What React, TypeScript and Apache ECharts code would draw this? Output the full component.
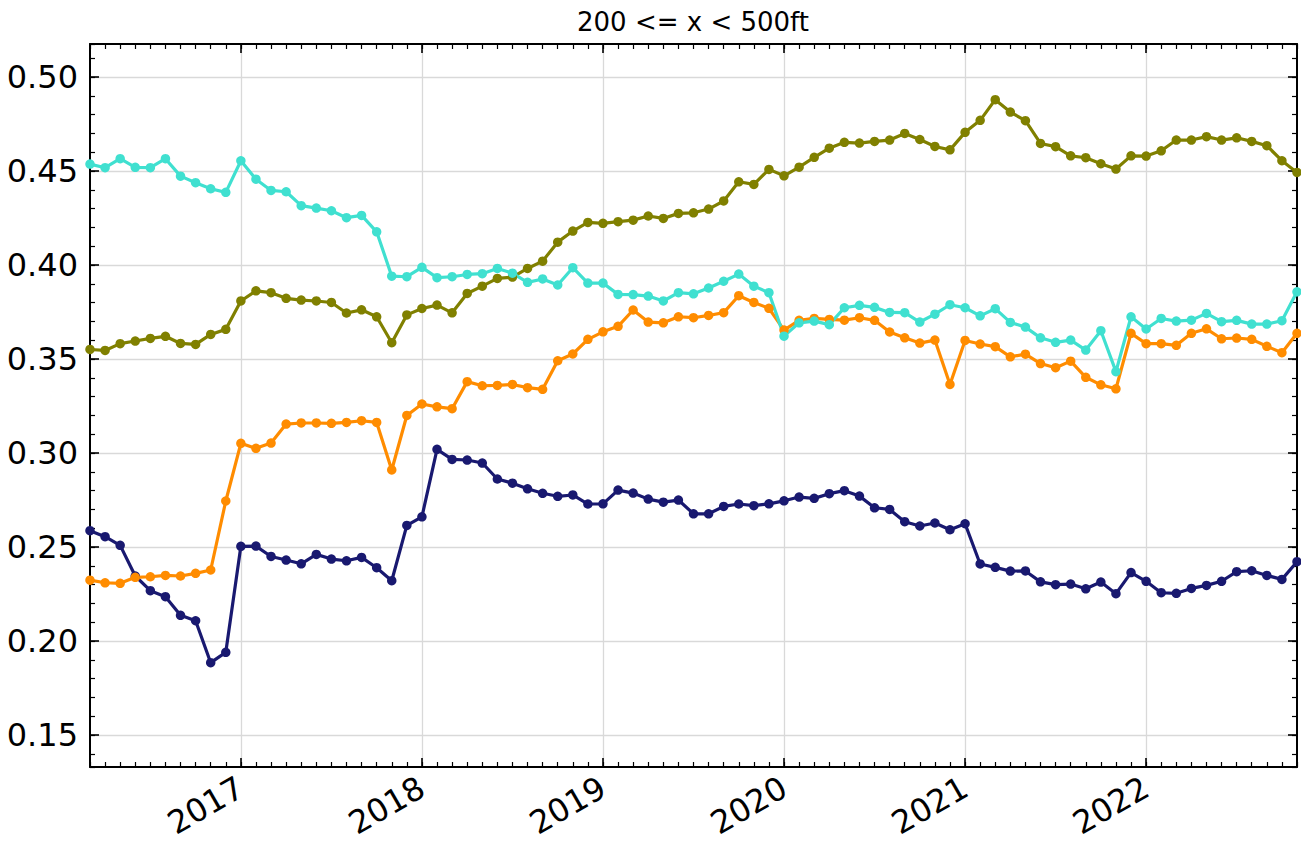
import React, { useEffect, useRef } from "react";
import * as echarts from "echarts";

const TITLE = "200 <= x < 500ft";
const START_YEAR = 2016;
const START_MONTH = 3;
const N_MONTHS = 81;
const months: string[] = [];
for (let i = 0; i < N_MONTHS; i++) {
  const m = START_MONTH - 1 + i;
  months.push(`${START_YEAR + Math.floor(m / 12)}-${String((m % 12) + 1).padStart(2, "0")}`);
}

const navy = [0.2587,0.2555,0.2509,0.2346,0.2268,0.2236,0.2137,0.2108,0.1885,0.1940,
0.2504,0.2505,0.2450,0.2431,0.2411,0.2461,0.2436,0.2427,0.2445,0.2390,0.2321,0.2615,
0.2661,0.3020,0.2966,0.2963,0.2947,0.2862,0.2840,0.2810,0.2786,0.2770,0.2777,0.2729,
0.2730,0.2803,0.2787,0.2755,0.2739,0.2750,0.2677,0.2677,0.2716,0.2729,0.2720,0.2730,
0.2746,0.2766,0.2759,0.2784,0.2800,0.2771,0.2709,0.2700,0.2635,0.2612,0.2628,0.2592,
0.2624,0.2410,0.2392,0.2372,0.2373,0.2315,0.2300,0.2303,0.2278,0.2314,0.2252,0.2364,
0.2318,0.2257,0.2254,0.2280,0.2296,0.2318,0.2369,0.2374,0.2349,0.2328,0.2422];

const orange = [0.2324,0.2310,0.2307,0.2339,0.2342,0.2349,0.2346,0.2360,0.2378,0.2745,
0.3052,0.3025,0.3053,0.3154,0.3160,0.3160,0.3158,0.3163,0.3172,0.3163,0.2910,0.3200,
0.3261,0.3246,0.3236,0.3380,0.3358,0.3360,0.3365,0.3348,0.3339,0.3491,0.3527,0.3605,
0.3645,0.3674,0.3761,0.3697,0.3693,0.3725,0.3720,0.3732,0.3747,0.3837,0.3801,0.3770,
0.3654,0.3706,0.3716,0.3711,0.3707,0.3720,0.3706,0.3644,0.3613,0.3585,0.3601,0.3365,
0.3599,0.3580,0.3566,0.3512,0.3526,0.3476,0.3454,0.3489,0.3403,0.3363,0.3342,0.3637,
0.3582,0.3582,0.3573,0.3637,0.3661,0.3608,0.3612,0.3605,0.3568,0.3534,0.3637];

const olive = [0.3551,0.3546,0.3582,0.3596,0.3610,0.3621,0.3583,0.3578,0.3631,0.3658,
0.3809,0.3863,0.3853,0.3823,0.3814,0.3809,0.3801,0.3745,0.3762,0.3725,0.3587,0.3735,
0.3769,0.3787,0.3746,0.3849,0.3888,0.3929,0.3936,0.3982,0.4021,0.4122,0.4181,0.4227,
0.4222,0.4231,0.4239,0.4261,0.4248,0.4275,0.4278,0.4298,0.4341,0.4443,0.4429,0.4509,
0.4475,0.4521,0.4573,0.4622,0.4653,0.4649,0.4658,0.4665,0.4700,0.4668,0.4631,0.4613,
0.4706,0.4770,0.4880,0.4814,0.4768,0.4647,0.4630,0.4581,0.4571,0.4539,0.4511,0.4581,
0.4580,0.4608,0.4665,0.4665,0.4683,0.4665,0.4677,0.4658,0.4635,0.4555,0.4493];

const turquoise = [0.4537,0.4518,0.4566,0.4520,0.4518,0.4566,0.4473,0.4438,0.4406,0.4387,
0.4555,0.4457,0.4397,0.4390,0.4316,0.4303,0.4289,0.4252,0.4264,0.4177,0.3941,0.3938,
0.3988,0.3933,0.3938,0.3950,0.3954,0.3982,0.3957,0.3908,0.3926,0.3894,0.3986,0.3904,
0.3904,0.3844,0.3843,0.3835,0.3809,0.3853,0.3847,0.3878,0.3914,0.3952,0.3888,0.3853,
0.3622,0.3693,0.3702,0.3683,0.3773,0.3786,0.3775,0.3748,0.3747,0.3697,0.3739,0.3789,
0.3773,0.3730,0.3768,0.3695,0.3670,0.3613,0.3589,0.3601,0.3548,0.3651,0.3433,0.3725,
0.3660,0.3716,0.3702,0.3707,0.3743,0.3699,0.3706,0.3686,0.3686,0.3704,0.3858];

const SERIES = [
  { name: "navy", color: "#191970", data: navy },
  { name: "orange", color: "#ff8c00", data: orange },
  { name: "olive", color: "#808000", data: olive },
  { name: "turquoise", color: "#40e0d0", data: turquoise },
];

const Y_MIN = 0.133;
const Y_MAX = 0.5176;
const FONT = "DejaVu Sans";

export default function App() {
  const ref = useRef<HTMLDivElement>(null);
  useEffect(() => {
    if (!ref.current) return;
    const chart = echarts.init(ref.current, undefined, { renderer: "svg" });
    const isJan = (_i: number, v: string) => typeof v === "string" && v.endsWith("-01");
    const black = "#000000";
    const xBase = (position: "top" | "bottom", major: boolean, main: boolean) => ({
      type: "category",
      data: months,
      boundaryGap: false,
      position,
      axisLine: { show: main, onZero: false, lineStyle: { color: black, width: 2 } },
      axisTick: {
        show: true,
        inside: true,
        length: major ? 9 : 5,
        interval: major ? isJan : 0,
        lineStyle: { color: black, width: major ? 1.6 : 1.2 },
      },
      axisLabel: main && position === "bottom"
        ? {
            show: true,
            interval: isJan,
            rotate: 30,
            margin: 18,
            fontSize: 32,
            fontFamily: FONT,
            color: black,
            formatter: (v: string) => v.slice(0, 4),
          }
        : { show: false },
      splitLine: main && position === "bottom"
        ? { show: true, interval: isJan, lineStyle: { color: "#d9d9d9", width: 1.3 } }
        : { show: false },
    });
    const yBase = (position: "left" | "right", major: boolean, main: boolean) => ({
      type: "value",
      min: Y_MIN,
      max: Y_MAX,
      splitNumber: major ? 8 : 40,
      position,
      axisLine: { show: main, lineStyle: { color: black, width: 2 } },
      axisTick: {
        show: true,
        inside: true,
        length: major ? 9 : 5,
        lineStyle: { color: black, width: major ? 1.6 : 1.2 },
      },
      axisLabel: main && position === "left"
        ? {
            show: true,
            margin: 12,
            fontSize: 32,
            fontFamily: FONT,
            color: black,
            showMinLabel: false,
            showMaxLabel: false,
            formatter: (v: number) => v.toFixed(2),
          }
        : { show: false },
      splitLine: main && position === "left"
        ? { show: true, showMinLine: false, showMaxLine: false, lineStyle: { color: "#d9d9d9", width: 1.3 } }
        : { show: false },
    });

    chart.setOption({
      animation: false,
      backgroundColor: "#ffffff",
      grid: { left: 90, right: 4, top: 44, bottom: 78, containLabel: false },
      graphic: [
        {
          type: "text",
          x: 693,
          y: 22,
          style: {
            text: TITLE,
            fontSize: 26,
            fontFamily: FONT,
            fill: black,
            textAlign: "center",
            textVerticalAlign: "middle",
          },
        },
      ],
      xAxis: [
        xBase("bottom", true, true),
        xBase("bottom", false, false),
        xBase("top", true, true),
        xBase("top", false, false),
      ],
      yAxis: [
        yBase("left", true, true),
        yBase("left", false, false),
        yBase("right", true, true),
        yBase("right", false, false),
      ],
      series: SERIES.map((s) => ({
        name: s.name,
        type: "line",
        xAxisIndex: 0,
        yAxisIndex: 0,
        data: s.data,
        symbol: "circle",
        symbolSize: 9.5,
        showSymbol: true,
        lineStyle: { color: s.color, width: 3.2 },
        itemStyle: { color: s.color },
        emphasis: { disabled: true },
      })),
    });
    return () => chart.dispose();
  }, []);
  return (
    <div
      ref={ref}
      style={{ position: "fixed", left: 0, top: 0, width: 1301, height: 845, background: "#fff" }}
    />
  );
}
